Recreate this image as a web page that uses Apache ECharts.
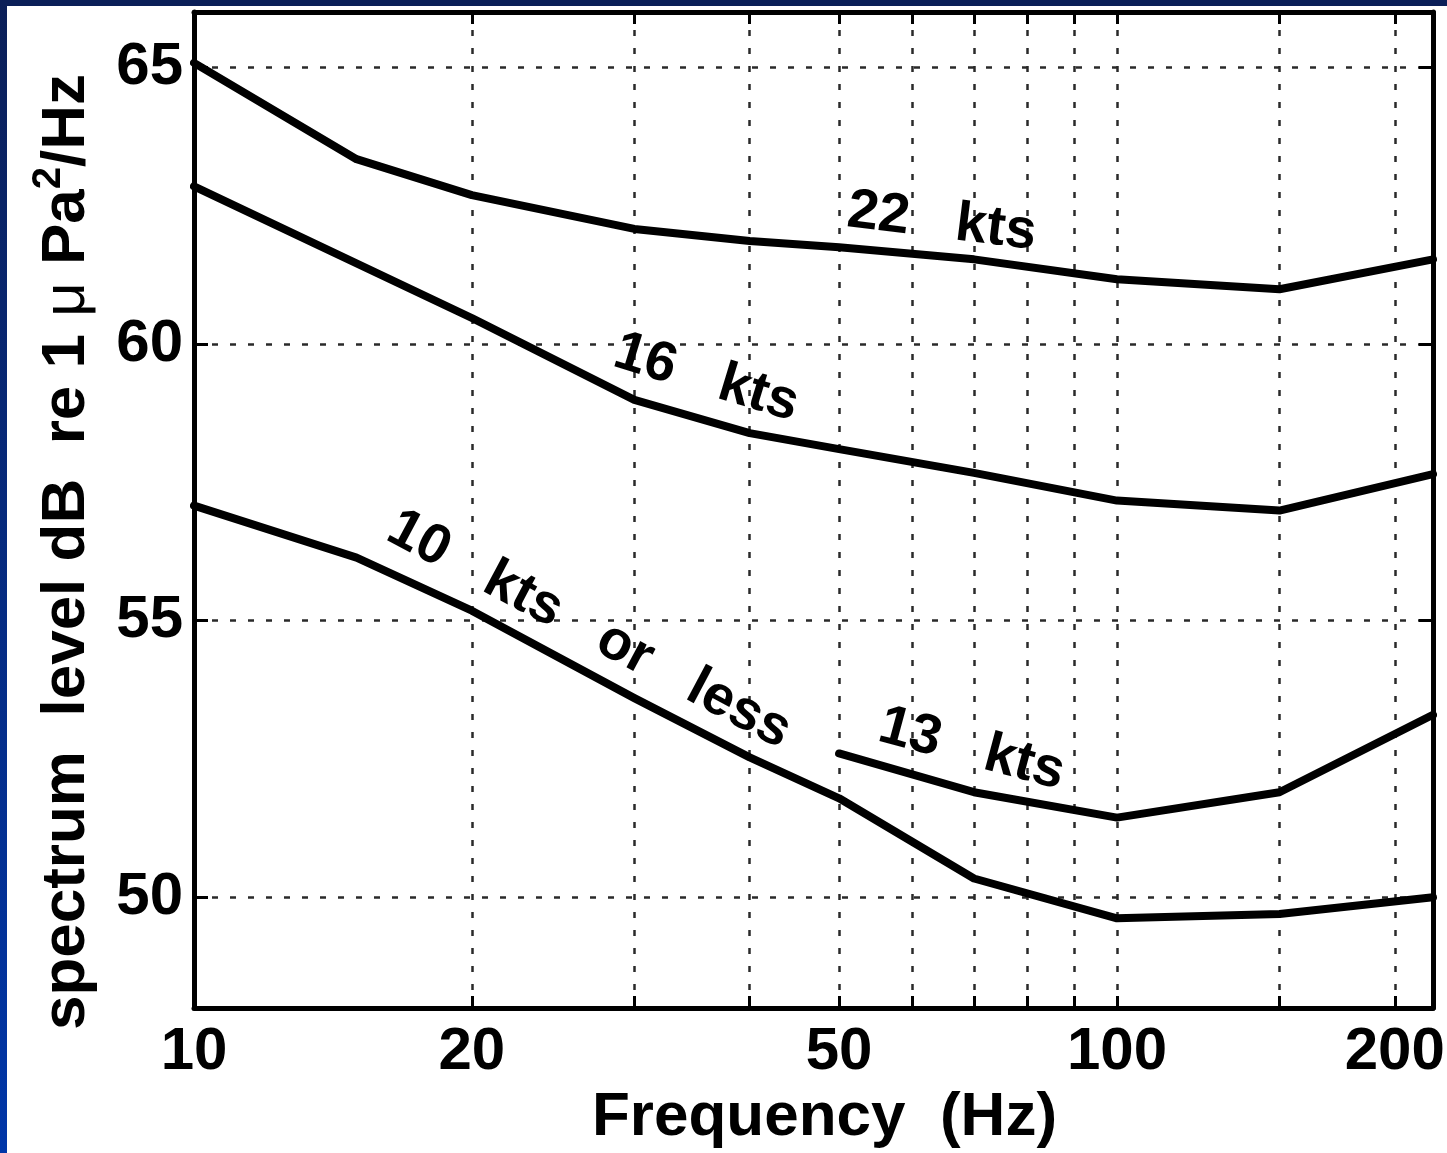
<!DOCTYPE html>
<html>
<head>
<meta charset="utf-8">
<script src="https://cdn.jsdelivr.net/npm/echarts@6/dist/echarts.min.js"></script>
<style>
html, body { margin: 0; padding: 0; background: #ffffff; }
#chart { width: 1447px; height: 1153px; }
</style>
</head>
<body>
<div id="chart"></div>
<script>
// ---- data ----
const freq22 = [10, 15, 20, 30, 40, 50, 70, 100, 150, 220];
const level22 = [65.08, 63.34, 62.69, 62.08, 61.86, 61.75, 61.53, 61.17, 60.99, 61.53];

const freq16 = [10, 20, 30, 40, 50, 70, 100, 150, 220];
const level16 = [62.85, 60.47, 58.99, 58.39, 58.1, 57.67, 57.17, 56.99, 57.65];

const freq13 = [50, 70, 100, 150, 220];
const level13 = [52.6, 51.9, 51.44, 51.9, 53.3];

const freq10 = [10, 15, 20, 30, 40, 50, 70, 100, 150, 220];
const level10 = [57.08, 56.14, 55.18, 53.6, 52.53, 51.79, 50.34, 49.62, 49.7, 50.0];

const xTickValues = [20, 30, 40, 50, 60, 70, 80, 90, 100, 150, 200];
const xLabelValues = [10, 20, 50, 100, 200];
const yTickValues = [50, 55, 60, 65];

// curve annotations: text and anchor (frequency, level)
const annotationText = ['22   kts', '16   kts', '10   kts   or   less', '13   kts'];
const annotationFreq = [64.6, 35.9, 26.8, 69.6];
const annotationLevel = [62.2, 59.38, 54.83, 52.67];
const annotationAngle = [-7, -17, -28, -15];

// ---- chart ----
const FONT = '"Liberation Sans", Arial, Helvetica, sans-serif';
const chart = echarts.init(document.getElementById('chart'), null, { renderer: 'canvas' });

function pairs(xs, ys) { return xs.map((x, i) => [x, ys[i]]); }

const gridLineStyle = { show: true, lineStyle: { color: '#2a2a2a', width: 2.5, type: [6, 12] } };
const axisLineStyle = { show: true, onZero: false, lineStyle: { color: '#000', width: 5 } };
const tickStyle = { color: '#000', width: 3 };

const curveSeries = (data) => ({
  type: 'line',
  data: data,
  showSymbol: false,
  symbol: 'none',
  smooth: false,
  silent: true,
  lineStyle: { color: '#000', width: 8, cap: 'round', join: 'round', opacity: 1 },
  z: 5
});

const option = {
  animation: false,
  backgroundColor: '#ffffff',
  graphic: [
    {
      type: 'rect', left: 0, top: 0, z: 100,
      shape: { width: 1447, height: 6 },
      style: { fill: '#0b1f58' }
    },
    {
      type: 'rect', left: 0, top: 0, z: 100,
      shape: { width: 7, height: 1153 },
      style: {
        fill: new echarts.graphic.LinearGradient(0, 0, 0, 1, [
          { offset: 0, color: '#0b1f58' },
          { offset: 1, color: '#0036a8' }
        ])
      }
    }
  ],
  grid: { left: 194, right: 14, top: 12, bottom: 145, containLabel: false, outerBoundsMode: 'none' },
  xAxis: [
    {
      type: 'log', logBase: 10, min: 10, max: 220, position: 'bottom',
      axisLine: axisLineStyle,
      axisTick: { show: true, inside: true, length: 12, lineStyle: tickStyle, customValues: xTickValues },
      axisLabel: {
        show: true, customValues: xLabelValues, margin: 14, color: '#000',
        fontSize: 60, fontWeight: 'bold', fontFamily: FONT,
        formatter: (v) => String(Math.round(v))
      },
      splitLine: gridLineStyle,
      minorTick: { show: false }, minorSplitLine: { show: false },
      name: 'Frequency  (Hz)', nameLocation: 'middle', nameGap: 70,
      nameTextStyle: { color: '#000', fontSize: 62, fontWeight: 'bold', fontFamily: FONT, padding: [0, 0, 0, 22] }
    },
    {
      type: 'log', logBase: 10, min: 10, max: 220, position: 'top',
      axisLine: axisLineStyle,
      axisTick: { show: true, inside: true, length: 12, lineStyle: tickStyle, customValues: xTickValues },
      axisLabel: { show: false },
      splitLine: { show: false }
    }
  ],
  yAxis: [
    {
      type: 'value', min: 48, max: 66, position: 'left',
      axisLine: axisLineStyle,
      axisTick: { show: true, inside: true, length: 14, lineStyle: tickStyle, customValues: yTickValues },
      axisLabel: {
        show: true, customValues: yTickValues, margin: 11, color: '#000',
        fontSize: 60, fontWeight: 'bold', fontFamily: FONT
      },
      splitLine: gridLineStyle,
      name: 'spectrum  level dB  re 1 {mu|\u03bc} Pa{sup|2}/Hz',
      nameLocation: 'middle', nameRotate: 90, nameGap: 68,
      nameTextStyle: {
        color: '#000', fontSize: 62, fontWeight: 'bold', fontFamily: FONT,
        lineHeight: 76, padding: [0, 84, 0, 0],
        rich: {
          mu: { fontSize: 60, fontWeight: 'normal', fontFamily: FONT, color: '#000', lineHeight: 76 },
          sup: { fontSize: 40, fontWeight: 'bold', fontFamily: FONT, color: '#000', verticalAlign: 'top' }
        }
      }
    },
    {
      type: 'value', min: 48, max: 66, position: 'right',
      axisLine: axisLineStyle,
      axisTick: { show: true, inside: true, length: 14, lineStyle: tickStyle, customValues: yTickValues },
      axisLabel: { show: false },
      splitLine: { show: false }
    }
  ],
  series: [
    curveSeries(pairs(freq22, level22)),
    curveSeries(pairs(freq16, level16)),
    curveSeries(pairs(freq13, level13)),
    curveSeries(pairs(freq10, level10)),
    {
      type: 'scatter',
      symbolSize: 0,
      silent: true,
      z: 10,
      itemStyle: { opacity: 1 },
      data: annotationText.map((t, i) => ({
        value: [annotationFreq[i], annotationLevel[i]],
        itemStyle: { opacity: 1 },
        label: {
          show: true, position: 'inside', formatter: t, rotate: annotationAngle[i],
          color: '#000', opacity: 1, fontSize: 56, fontWeight: 'bold', fontFamily: FONT
        }
      }))
    }
  ]
};

chart.setOption(option);
</script>
</body>
</html>
